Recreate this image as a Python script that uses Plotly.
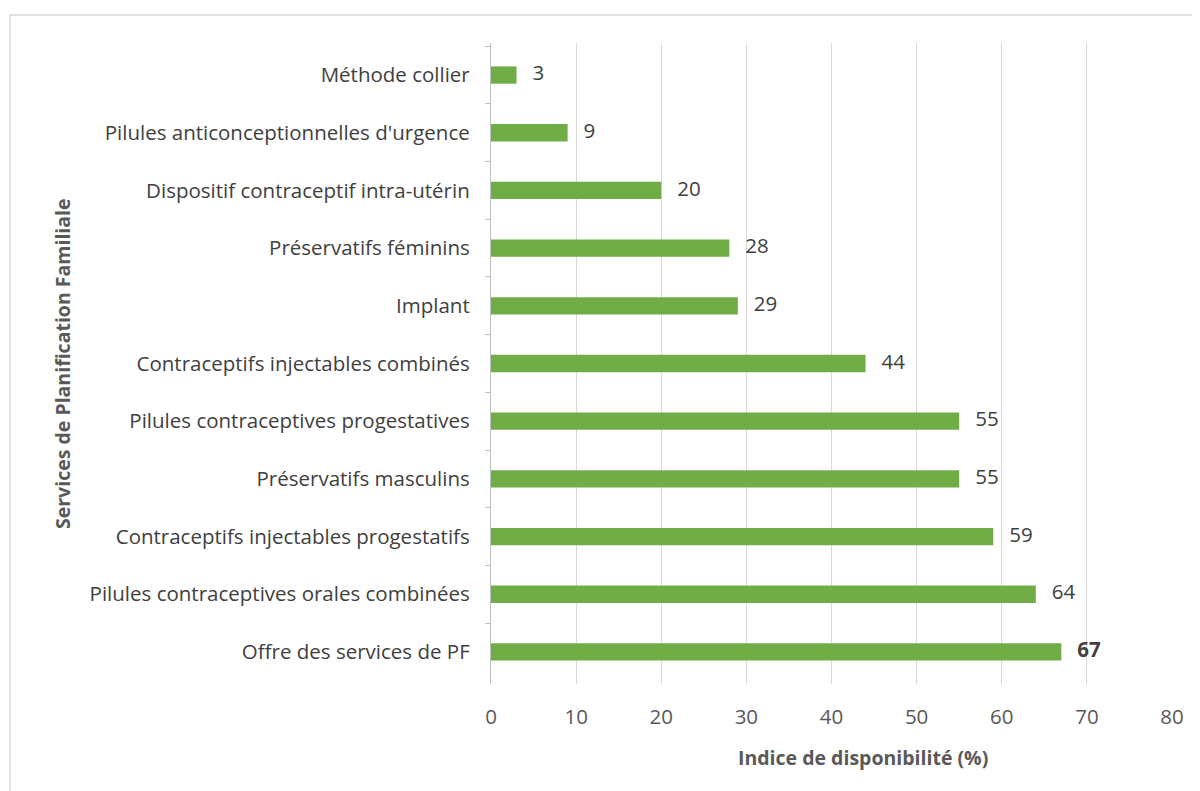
import plotly.graph_objects as go

services = [
    "Méthode collier",
    "Pilules anticonceptionnelles d'urgence",
    "Dispositif contraceptif intra-utérin",
    "Préservatifs féminins",
    "Implant",
    "Contraceptifs injectables combinés",
    "Pilules contraceptives progestatives",
    "Préservatifs masculins",
    "Contraceptifs injectables progestatifs",
    "Pilules contraceptives orales combinées",
    "Offre des services de PF",
]
indice = [3, 9, 20, 28, 29, 44, 55, 55, 59, 64, 67]
x_ticks = [0, 10, 20, 30, 40, 50, 60, 70, 80]

green = "#70AD47"
font = "Open Sans"

# labels: the total (last one) is bold
labels = ["   " + str(v) for v in indice]
labels[-1] = "   <b>" + str(indice[-1]) + "</b>"

# page body has an 8px margin, so work in figure coordinates (ref - 8)
W, H = 1192, 783
L, R, T, B = 483, 28, 35, 107
pw, ph = W - L - R, H - T - B

fig = go.Figure()
fig.add_trace(go.Bar(
    x=indice, y=services, orientation="h",
    marker=dict(color=green, line=dict(width=0)),
    width=0.3, hoverinfo="x+y",
))
fig.add_trace(go.Scatter(
    x=indice, y=services, mode="text", text=labels,
    textposition="middle right",
    textfont=dict(family=font, size=20.5, color="#404040"),
    cliponaxis=False, hoverinfo="skip",
))

fig.update_layout(
    width=W, height=H,
    margin=dict(l=L, r=R, t=T, b=B),
    plot_bgcolor="white", paper_bgcolor="white",
    showlegend=False,
    font=dict(family=font, size=20.5, color="#595959"),
)
fig.update_xaxes(
    range=[0, 80], tickvals=x_ticks, showgrid=True, gridcolor="#d9d9d9",
    gridwidth=1.3, zeroline=False, showline=False,
    tickfont=dict(family=font, size=20.5, color="#595959"), ticks="",
    ticklabelstandoff=18,
)
fig.update_yaxes(
    autorange="reversed", showline=True, linecolor="#bfbfbf", linewidth=1.3,
    ticks="outside", tickson="boundaries", ticklen=5, tickcolor="#bfbfbf",
    tickfont=dict(family=font, size=20.5, color="#404040"),
    ticklabelstandoff=16, showgrid=False,
)

# axis titles
fig.add_annotation(
    text="<b>Indice de disponibilité (%)</b>", xref="paper", yref="paper",
    x=(855 - L) / pw, y=(H - B - 749) / ph, showarrow=False,
    xanchor="center", yanchor="middle",
    font=dict(family=font, size=19.5, color="#595959"),
)
fig.add_annotation(
    text="<b>Services de Planification Familiale</b>", xref="paper", yref="paper",
    x=(54 - L) / pw, y=(H - B - 356) / ph, textangle=-90, showarrow=False,
    xanchor="center", yanchor="middle",
    font=dict(family=font, size=19.5, color="#595959"),
)

# chart area frame
fig.add_shape(
    type="rect", xref="paper", yref="paper",
    x0=(2 - L) / pw, x1=(1195 - L) / pw,
    y0=(H - B - 790) / ph, y1=(H - B - 7) / ph,
    line=dict(color="#d9d9d9", width=1.3), layer="below",
)

fig.write_html("out.html")
